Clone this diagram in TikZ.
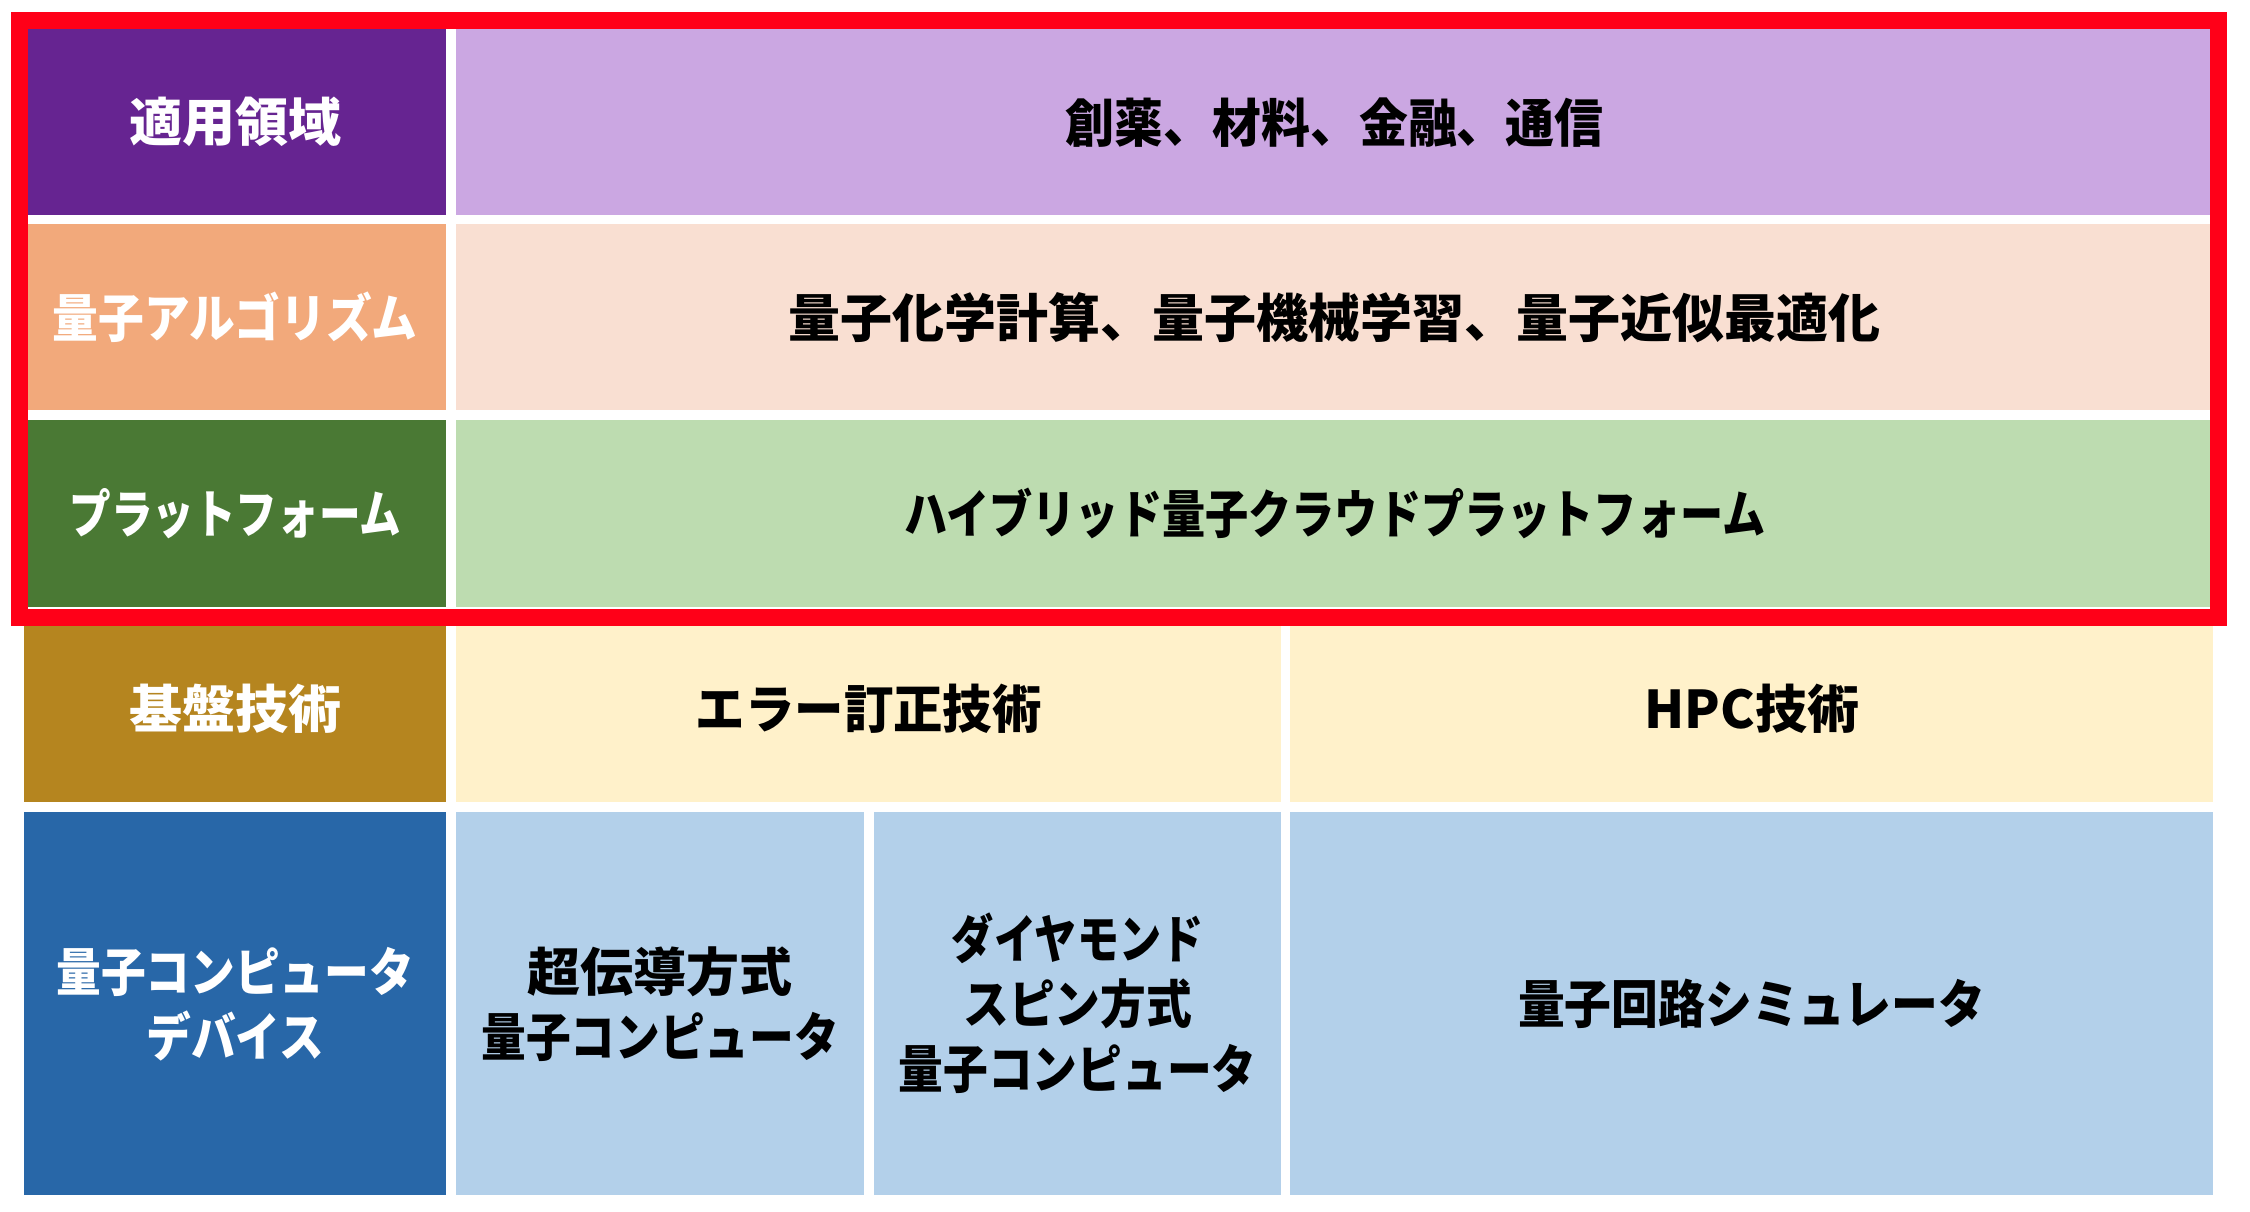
\documentclass[tikz,border=0pt]{standalone}
\usepackage{fontspec}
\setmainfont{Noto Sans CJK JP}
\usepackage{graphicx}
\newcommand\sx[2]{\scalebox{#1}[1]{#2}}
\definecolor{purD}{HTML}{662491}
\definecolor{purL}{HTML}{CBA7E2}
\definecolor{salD}{HTML}{F2A97B}
\definecolor{salL}{HTML}{F9DFD2}
\definecolor{grnD}{HTML}{4A7934}
\definecolor{grnL}{HTML}{BDDCB0}
\definecolor{gldD}{HTML}{B5851F}
\definecolor{gldL}{HTML}{FFF1CA}
\definecolor{bluD}{HTML}{2867A8}
\definecolor{bluL}{HTML}{B3D0EA}
\definecolor{redF}{HTML}{FF0018}
\begin{document}
\begin{tikzpicture}[x=1pt,y=-1pt,
  cell/.style={rectangle, inner sep=0pt, anchor=north west, align=center,
    font=\fontsize{52}{65}\selectfont\bfseries},
  head/.style={cell, text=white, minimum width=422pt},
  body/.style={cell, text=black}]
\useasboundingbox (0,0) rectangle (2250,1211);
\fill[white] (0,0) rectangle (2250,1211);
% row 1
\node[head, fill=purD, minimum height=186pt] (h1) at (24,29) {\sx{1.02}{適用領域}};
\node[body, fill=purL, minimum width=1757pt, minimum height=186pt] (b1) at (456,29) {\sx{0.94}{創薬、材料、金融、通信}};
% row 2
\node[head, fill=salD, minimum height=186pt] (h2) at (24,224) {\sx{0.88}{量子アルゴリズム}};
\node[body, fill=salL, minimum width=1757pt, minimum height=186pt] (b2) at (456,224) {\sx{1.0}{量子化学計算、量子機械学習、量子近似最適化}};
% row 3
\node[head, fill=grnD, minimum height=187pt] (h3) at (24,420) {\sx{0.80}{プラットフォーム}};
\node[body, fill=grnL, minimum width=1757pt, minimum height=187pt] (b3) at (456,420) {\sx{0.83}{ハイブリッド量子クラウドプラットフォーム}};
% row 4
\node[head, fill=gldD, minimum height=186pt] (h4) at (24,616) {\sx{1.02}{基盤技術}};
\node[body, fill=gldL, minimum width=825pt, minimum height=186pt] (b4a) at (456,616) {\sx{0.95}{エラー訂正技術}};
\node[body, fill=gldL, minimum width=923pt, minimum height=186pt] (b4b) at (1290,616) {\sx{1.0}{HPC技術}};
% row 5
\node[head, fill=bluD, minimum height=383pt] (h5) at (24,812) {\sx{0.86}{量子コンピュータ}\\\sx{0.86}{デバイス}};
\node[body, fill=bluL, minimum width=408pt, minimum height=383pt] (b5a) at (456,812) {\sx{1.02}{超伝導方式}\\\sx{0.86}{量子コンピュータ}};
\node[body, fill=bluL, minimum width=407pt, minimum height=383pt] (b5b) at (874,812) {\sx{0.81}{ダイヤモンド}\\\sx{0.88}{スピン方式}\\\sx{0.86}{量子コンピュータ}};
\node[body, fill=bluL, minimum width=923pt, minimum height=383pt] (b5c) at (1290,812) {\sx{0.90}{量子回路シミュレータ}};
% red frame
\draw[redF, line width=17pt] (19.5,20.5) rectangle (2218.5,617);
\end{tikzpicture}
\end{document}
